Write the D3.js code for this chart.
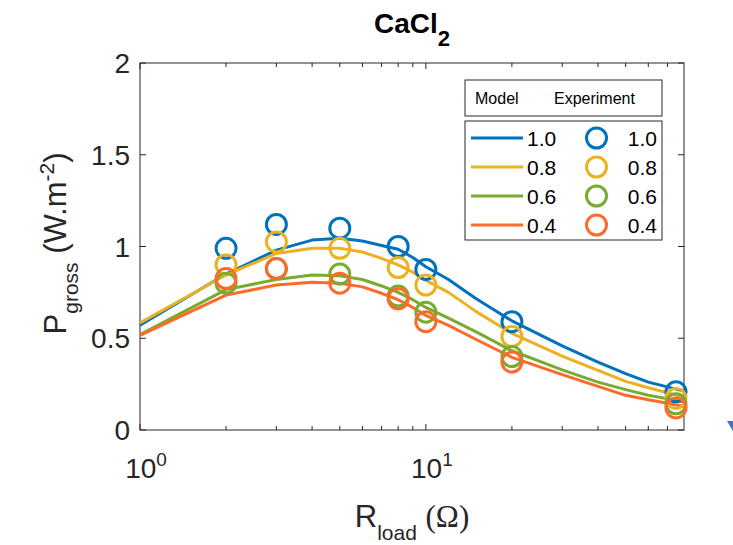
<!DOCTYPE html>
<html>
<head>
<meta charset="utf-8">
<script src="https://cdn.jsdelivr.net/npm/d3@7"></script>
<style>
  body { margin: 0; background: #fff; }
  svg { display: block; font-family: "Liberation Sans", Arial, sans-serif; }
</style>
</head>
<body>
<div id="chart"></div>
<script>
// model curves
const modelR = [1, 2, 3, 4, 5, 6, 7, 8, 9, 10, 12, 15, 20, 30, 40, 50, 60, 70, 80];
const model10 = [0.571, 0.85, 0.98, 1.035, 1.045, 1.03, 1.005, 0.985, 0.94, 0.89, 0.82, 0.715, 0.595, 0.458, 0.37, 0.307, 0.261, 0.235, 0.212];
const model08 = [0.584, 0.845, 0.962, 0.99, 0.99, 0.97, 0.935, 0.90, 0.86, 0.815, 0.75, 0.645, 0.527, 0.403, 0.325, 0.265, 0.23, 0.203, 0.179];
const model06 = [0.52, 0.765, 0.82, 0.845, 0.84, 0.82, 0.785, 0.75, 0.71, 0.668, 0.61, 0.535, 0.432, 0.328, 0.261, 0.22, 0.189, 0.17, 0.152];
const model04 = [0.516, 0.735, 0.79, 0.805, 0.80, 0.78, 0.745, 0.71, 0.668, 0.624, 0.57, 0.493, 0.396, 0.302, 0.238, 0.189, 0.165, 0.146, 0.128];

// experiment points
const expR = [2, 3, 5, 8, 10, 20, 75];
const exp10 = [0.99, 1.12, 1.10, 1.0, 0.875, 0.59, 0.208];
const exp08 = [0.90, 1.025, 0.99, 0.885, 0.79, 0.51, 0.172];
const exp06 = [0.80, 0.88, 0.85, 0.73, 0.642, 0.40, 0.143];
const exp04 = [0.825, 0.88, 0.80, 0.715, 0.59, 0.37, 0.12];

const seriesNames = ["1.0", "0.8", "0.6", "0.4"];
const colors = ["#0072BD", "#EDB120", "#77AC30", "#FF6A2B"];
const models = [model10, model08, model06, model04];
const experiments = [exp10, exp08, exp06, exp04];

const yTicks = [0, 0.5, 1, 1.5, 2];
const yTickLabels = ["0", "0.5", "1", "1.5", "2"];

const W = 733, H = 545;
const margin = { top: 63, right: 49, bottom: 115, left: 140 };
const width = W - margin.left - margin.right;
const height = H - margin.top - margin.bottom;
const axisColor = "#262626";

const svg = d3.select("#chart")
  .append("svg")
  .attr("width", W)
  .attr("height", H);

const g = svg.append("g")
  .attr("transform", `translate(${margin.left},${margin.top})`);

const x = d3.scaleLog().domain([1, 80]).range([0, width]);
const y = d3.scaleLinear().domain([0, 2]).range([height, 0]);

// minor log ticks
const minorTicks = [];
for (let d = 1; d <= 10; d *= 10) {
  for (let k = 2; k <= 9; k++) {
    if (k * d < 80) minorTicks.push(k * d);
  }
}

// frame
g.append("rect")
  .attr("width", width)
  .attr("height", height)
  .attr("fill", "none")
  .attr("stroke", axisColor)
  .attr("stroke-width", 1);

// ticks (inward, both sides like MATLAB box on)
const tickG = g.append("g").attr("stroke", axisColor).attr("stroke-width", 1);
[1, 10].forEach(v => {
  tickG.append("line").attr("x1", x(v)).attr("x2", x(v)).attr("y1", height).attr("y2", height - 6);
  tickG.append("line").attr("x1", x(v)).attr("x2", x(v)).attr("y1", 0).attr("y2", 6);
});
minorTicks.forEach(v => {
  tickG.append("line").attr("x1", x(v)).attr("x2", x(v)).attr("y1", height).attr("y2", height - 4);
  tickG.append("line").attr("x1", x(v)).attr("x2", x(v)).attr("y1", 0).attr("y2", 4);
});
yTicks.forEach(v => {
  tickG.append("line").attr("x1", 0).attr("x2", 6).attr("y1", y(v)).attr("y2", y(v));
  tickG.append("line").attr("x1", width).attr("x2", width - 6).attr("y1", y(v)).attr("y2", y(v));
});

// y tick labels
g.selectAll(".ylab")
  .data(yTicks)
  .join("text")
  .attr("class", "ylab")
  .attr("x", -10)
  .attr("y", d => y(d))
  .attr("dy", "0.36em")
  .attr("text-anchor", "end")
  .attr("font-size", 28)
  .attr("fill", axisColor)
  .text((d, i) => yTickLabels[i]);

// x tick labels 10^0, 10^1
[[1, "0"], [10, "1"]].forEach(([v, e]) => {
  const t = g.append("text")
    .attr("x", x(v) + 6)
    .attr("y", height + 48)
    .attr("text-anchor", "middle")
    .attr("font-size", 28)
    .attr("fill", axisColor);
  t.append("tspan").text("10");
  t.append("tspan").attr("font-size", 19).attr("dy", -12).text(e);
});

// model lines
const line = d3.line()
  .x(d => x(d[0]))
  .y(d => y(d[1]));

models.forEach((m, i) => {
  g.append("path")
    .datum(modelR.map((r, j) => [r, m[j]]))
    .attr("fill", "none")
    .attr("stroke", colors[i])
    .attr("stroke-width", 3)
    .attr("stroke-linejoin", "round")
    .attr("d", line);
});

// experiment circles
experiments.forEach((e, i) => {
  g.selectAll(".c" + i)
    .data(expR.map((r, j) => [r, e[j]]))
    .join("circle")
    .attr("class", "c" + i)
    .attr("cx", d => x(d[0]))
    .attr("cy", d => y(d[1]))
    .attr("r", 10)
    .attr("fill", "none")
    .attr("stroke", colors[i])
    .attr("stroke-width", 3);
});

// title
const title = svg.append("text")
  .attr("x", margin.left + width / 2)
  .attr("y", 33)
  .attr("text-anchor", "middle")
  .attr("font-size", 28)
  .attr("font-weight", "bold")
  .attr("fill", "#000");
title.append("tspan").text("CaCl");
title.append("tspan").attr("font-size", 22).attr("dy", 13).text("2");

// x label
const xl = svg.append("text")
  .attr("x", margin.left + width / 2)
  .attr("y", 527)
  .attr("text-anchor", "middle")
  .attr("font-size", 31)
  .attr("fill", axisColor);
xl.append("tspan").text("R");
xl.append("tspan").attr("font-size", 21).attr("dy", 13).text("load");
xl.append("tspan").attr("dy", -13).text(" ");
xl.append("tspan").attr("font-family", "Liberation Serif, serif").text("(Ω)");

// y label
const yl = svg.append("text")
  .attr("transform", `translate(66,${margin.top + height / 2 - 3}) rotate(-90)`)
  .attr("text-anchor", "middle")
  .attr("font-size", 31)
  .attr("fill", axisColor);
yl.append("tspan").text("P");
yl.append("tspan").attr("font-size", 21).attr("dy", 12).text("gross");
yl.append("tspan").attr("dy", -12).text(" (W.m");
yl.append("tspan").attr("font-size", 21).attr("dy", -12).text("-2");
yl.append("tspan").attr("dy", 12).text(")");

// legend
const lg = svg.append("g").attr("transform", "translate(465,80)");
lg.append("rect")
  .attr("width", 197).attr("height", 36)
  .attr("fill", "#fff").attr("stroke", axisColor).attr("stroke-width", 1);
lg.append("text").attr("x", 10).attr("y", 24).attr("font-size", 16).attr("fill", "#000").text("Model");
lg.append("text").attr("x", 89).attr("y", 24).attr("font-size", 16).attr("fill", "#000").text("Experiment");

const lb = lg.append("g").attr("transform", "translate(0,41)");
lb.append("rect")
  .attr("width", 197).attr("height", 119)
  .attr("fill", "#fff").attr("stroke", axisColor).attr("stroke-width", 1);
seriesNames.forEach((name, i) => {
  const ry = 17 + i * 29;
  lb.append("line")
    .attr("x1", 6).attr("x2", 58).attr("y1", ry).attr("y2", ry)
    .attr("stroke", colors[i]).attr("stroke-width", 3);
  lb.append("text")
    .attr("x", 62).attr("y", ry).attr("dy", "0.36em")
    .attr("font-size", 21).attr("fill", "#000").text(name);
  lb.append("circle")
    .attr("cx", 131.5).attr("cy", ry).attr("r", 10)
    .attr("fill", "none").attr("stroke", colors[i]).attr("stroke-width", 3);
  lb.append("text")
    .attr("x", 192).attr("y", ry).attr("dy", "0.36em")
    .attr("text-anchor", "end")
    .attr("font-size", 21).attr("fill", "#000").text(name);
});

// cropped arrow fragment at the right edge
svg.append("path")
  .attr("d", "M727,421 L741,421 L734,433 Z")
  .attr("fill", "#4472C4");
</script>
</body>
</html>
